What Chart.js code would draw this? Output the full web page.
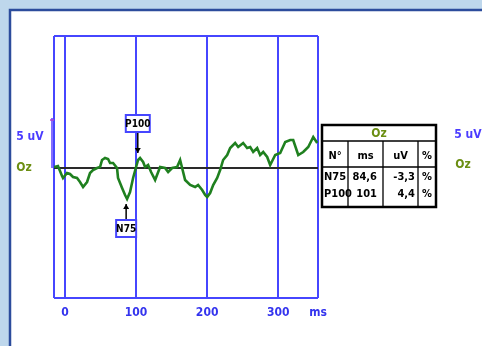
<!DOCTYPE html>
<html><head><meta charset="utf-8">
<script src="https://cdn.jsdelivr.net/npm/chart.js@4/dist/chart.umd.min.js"></script>
<style>html,body{margin:0;padding:0;background:#bed7ec;overflow:hidden}
#wrap{position:absolute;left:0;top:0;width:482px;height:346px}</style></head>
<body><div id="wrap"><canvas id="c" width="482" height="346"></canvas></div>
<script>
// ---- data ----
const timesMs = [-15.5,-9.9,-4.2,-2.8,2.8,7.0,11.3,16.9,21.1,25.4,31.0,35.2,39.4,45.1,49.3,52.1,56.3,60.6,63.4,67.6,73.2,74.6,80.3,84.5,87.3,91.5,95.8,100.0,102.8,105.6,109.9,112.7,116.9,121.1,126.8,133.8,140.8,145.1,150.7,157.7,162.0,164.8,169.0,176.1,183.1,187.3,193.0,197.2,200.0,204.2,208.5,214.1,218.3,222.5,228.2,232.4,239.4,243.7,250.7,256.3,260.6,264.8,270.4,274.6,278.9,284.5,288.7,295.8,302.8,309.9,316.9,321.1,328.2,335.2,342.3,349.3,352.1,354.9];
const ozUv =    [0.1,0.2,-0.8,-1.0,-0.5,-0.6,-0.9,-1.0,-1.4,-1.9,-1.4,-0.5,-0.2,0.0,0.1,0.8,1.0,0.9,0.5,0.5,0.0,-1.0,-2.0,-2.7,-3.1,-2.4,-1.0,0.1,0.8,1.0,0.6,0.1,0.3,-0.4,-1.2,0.1,0.0,-0.4,0.0,0.1,0.8,0.0,-1.2,-1.7,-1.9,-1.7,-2.2,-2.7,-2.9,-2.5,-1.7,-1.0,-0.2,0.8,1.3,2.0,2.5,2.1,2.5,2.0,2.1,1.6,2.0,1.3,1.6,1.1,0.3,1.3,1.5,2.6,2.8,2.8,1.3,1.6,2.1,3.1,2.8,2.5];
const xMin = -15.5, xMax = 356;
const yMin = -13, yMax = 13.2;
const xTicks = [-15.5, 0, 100, 200, 300, 356];
const xTickLabels = ['', '0', '100', '200', '300', 'ms'];
const yTicks = [-13, 0, 13.2];
const peakNames = ['N75', 'P100'];
const peakMs = [84.6, 101];
const tableTitle = 'Oz';
const tableHeader = ['N°', 'ms', 'uV', '%'];
const tableRows = [['N75', '84,6', '-3,3', '%'], ['P100', '101', '4,4', '%']];
const scaleLabel = '5 uV';
const channelLabel = 'Oz';
const scaleUv = 5;

const BLUE = '#4646ff';
const NARROW = '"Liberation Sans Narrow","DejaVu Sans Condensed","Liberation Sans",sans-serif';

const bgPlugin = {
  id: 'bg',
  beforeDraw(chart) {
    const c = chart.ctx;
    c.save();
    c.fillStyle = '#bed7ec';
    c.fillRect(0, 0, chart.width, chart.height);
    c.fillStyle = '#ffffff';
    c.fillRect(10, 10, chart.width, chart.height);
    c.strokeStyle = '#2c4c9c';
    c.lineWidth = 2.5;
    c.beginPath();
    c.moveTo(10, chart.height + 5); c.lineTo(10, 10); c.lineTo(chart.width + 5, 10);
    c.stroke();
    c.restore();
  }
};

function arrow(c, x, y0, y1) {
  c.strokeStyle = '#000'; c.fillStyle = '#000'; c.lineWidth = 1.5;
  c.beginPath(); c.moveTo(x, y0); c.lineTo(x, y1); c.stroke();
  const d = y1 > y0 ? 1 : -1;
  c.beginPath(); c.moveTo(x - 3, y1 - d * 5); c.lineTo(x + 3, y1 - d * 5); c.lineTo(x, y1); c.closePath(); c.fill();
}
function labelBox(c, cx, top, w, h, txt) {
  c.fillStyle = '#fff';
  c.fillRect(cx - w / 2, top, w, h);
  c.strokeStyle = BLUE; c.lineWidth = 2;
  c.strokeRect(cx - w / 2, top, w, h);
  c.fillStyle = '#000';
  c.font = 'bold 10px ' + NARROW;
  c.textAlign = 'center'; c.textBaseline = 'middle';
  c.fillText(txt, cx, top + h / 2 + 1);
}

const overlay = {
  id: 'overlay',
  afterDraw(chart) {
    const c = chart.ctx, xs = chart.scales.x, ys = chart.scales.y;
    const y0 = ys.getPixelForValue(0), y5 = ys.getPixelForValue(scaleUv);
    const left = chart.chartArea.left, right = chart.chartArea.right;
    c.save();
    // scale bar
    c.strokeStyle = '#5a3cff'; c.lineWidth = 1.5;
    c.beginPath(); c.moveTo(left - 2, y0); c.lineTo(left - 2, y5); c.stroke();
    c.strokeStyle = '#b040d0';
    c.beginPath(); c.moveTo(left - 4, y5 + 2); c.lineTo(left, y5 + 2); c.stroke();
    // side labels
    c.font = 'bold 12px ' + NARROW;
    c.textAlign = 'center'; c.textBaseline = 'middle';
    c.fillStyle = '#4b3cff';
    c.fillText(scaleLabel, 30, y5 + 19);
    c.fillText(scaleLabel, 468, y5 + 17);
    c.fillStyle = '#6b8e12';
    c.fillText(channelLabel, 24, y0);
    c.fillText(channelLabel, 463, y0 - 3);
    // peak annotations
    const pN = xs.getPixelForValue(peakMs[0]);
    const pP = xs.getPixelForValue(peakMs[1]);
    arrow(c, pP + 1, y0 - 36, y0 - 15);
    labelBox(c, pP + 1, y0 - 53, 24, 17, peakNames[1]);
    arrow(c, pN + 1, y0 + 52, y0 + 36);
    labelBox(c, pN + 1, y0 + 52, 20, 17, peakNames[0]);
    // table
    const tx = [right + 4, right + 30, right + 65, right + 100, right + 118];
    const ty = [y0 - 43, y0 - 27, y0 - 1, y0 + 39];
    c.fillStyle = '#fff';
    c.fillRect(tx[0], ty[0], tx[4] - tx[0], ty[3] - ty[0]);
    c.strokeStyle = '#000'; c.lineWidth = 1.3;
    c.beginPath();
    c.moveTo(tx[0], ty[1]); c.lineTo(tx[4], ty[1]);
    c.moveTo(tx[0], ty[2]); c.lineTo(tx[4], ty[2]);
    for (let i = 1; i < 4; i++) { c.moveTo(tx[i], ty[1]); c.lineTo(tx[i], ty[3]); }
    c.stroke();
    c.lineWidth = 2.5;
    c.strokeRect(tx[0], ty[0], tx[4] - tx[0], ty[3] - ty[0]);
    c.font = 'bold 12px ' + NARROW;
    c.fillStyle = '#6b8e12';
    c.fillText(tableTitle, (tx[0] + tx[4]) / 2, (ty[0] + ty[1]) / 2 + 1);
    c.fillStyle = '#000';
    c.font = 'bold 11px ' + NARROW;
    tableHeader.forEach((h, i) => c.fillText(h, (tx[i] + tx[i + 1]) / 2, (ty[1] + ty[2]) / 2 + 2));
    tableRows.forEach((row, r) => {
      const yy = ty[2] + 10 + r * 17;
      c.textAlign = 'left'; c.fillText(row[0], tx[0] + 2, yy);
      c.textAlign = 'right'; c.fillText(row[1], tx[2] - 6, yy); c.fillText(row[2], tx[3] - 3, yy);
      c.textAlign = 'center'; c.fillText(row[3], (tx[3] + tx[4]) / 2, yy);
    });
    c.restore();
  }
};

new Chart(document.getElementById('c'), {
  type: 'line',
  data: {
    datasets: [{
      data: timesMs.map((t, i) => ({ x: t, y: ozUv[i] })),
      borderColor: '#1f801f', borderWidth: 2.6, pointRadius: 0, tension: 0, fill: false
    }]
  },
  options: {
    responsive: false, animation: false, devicePixelRatio: 1,
    layout: { padding: { left: 54, right: 164, top: 36, bottom: 26 } },
    plugins: { legend: { display: false }, tooltip: { enabled: false } },
    scales: {
      x: {
        type: 'linear', min: xMin, max: xMax,
        afterBuildTicks: s => { s.ticks = xTicks.map(v => ({ value: v })); },
        afterFit: s => { s.height = 22; },
        border: { display: false },
        grid: { color: BLUE, lineWidth: 2, drawTicks: false },
        ticks: {
          autoSkip: false, maxRotation: 0, padding: 8, color: '#3434ee',
          font: { family: NARROW, size: 12, weight: 'bold' },
          callback: (v, i) => xTickLabels[i]
        }
      },
      y: {
        type: 'linear', min: yMin, max: yMax,
        afterBuildTicks: s => { s.ticks = yTicks.map(v => ({ value: v })); },
        afterFit: s => { s.width = 0; },
        border: { display: false },
        grid: {
          drawTicks: false,
          color: ctx => ctx.tick && ctx.tick.value === 0 ? '#2a2a2a' : BLUE,
          lineWidth: 2
        },
        ticks: { display: false }
      }
    }
  },
  plugins: [bgPlugin, overlay]
});
</script>
</body></html>
